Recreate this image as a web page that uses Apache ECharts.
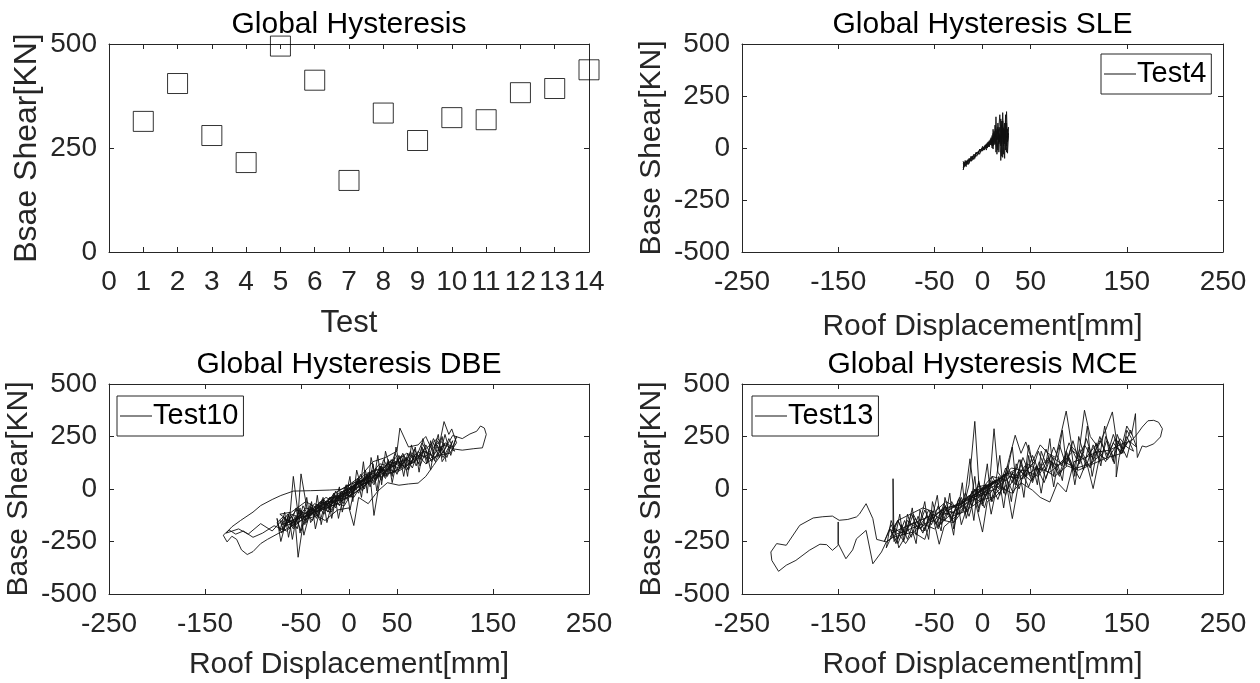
<!DOCTYPE html>
<html><head><meta charset="utf-8">
<script src="https://cdn.jsdelivr.net/npm/echarts@6/dist/echarts.min.js"></script>
<style>html,body{margin:0;padding:0;background:#fff}#c{width:1260px;height:683px}</style>
</head><body><div id="c"></div>
<script>
// ---------- data ----------
const testNumbers = [1,2,3,4,5,6,7,8,9,10,11,12,13,14];
const peakShear = [314,405,280,215,495,413,172,334,268,323,318,383,393,438];
const dispTicks = [-250,-150,-50,0,50,150,250];
const titles = ['Global Hysteresis','Global Hysteresis SLE','Global Hysteresis DBE','Global Hysteresis MCE'];
const legendNames = ['Test4','Test10','Test13'];

// Test4 (SLE): [roof displacement mm, base shear kN]
const test4 = [[-20,-95],[-19,-70],[-17,-90],[-16,-65],[-14,-75],[-13,-50],[-11,-62],[-10,-38],[-8,-50],[-7,-28],[-5,-35],[-4,-15],[-2,-22],[0,0],[1,-10],[3,15],[4,0],[6,28],[7,5],[9,45],[10,10],[11,70],[12,15],[13,110],[14,20],[15,60],[16,-10],[17,90],[18,30],[19,140],[20,20],[21,80],[22,-30],[23,120],[24,40],[25,175],[26,30],[27,100],[26,60],
[25,-20],[24,80],[22,40],[21,130],[20,-40],[19,60],[17,20],[16,100],[14,-20],[13,60],[11,10],[10,40],[8,15],[7,35],[5,0],[4,20],[2,-10],[1,5],[-1,-15],[-3,-5],[-4,-30],[-6,-20],[-8,-45],[-9,-30],[-11,-55],[-12,-40],[-14,-70],[-15,-55],[-17,-80],[-18,-60],[-20,-105],[-19,-80],[-20,-65],
[-18,-85],[-16,-60],[-15,-80],[-13,-55],[-12,-65],[-10,-42],[-9,-55],[-7,-30],[-6,-40],[-4,-20],[-3,-30],[-1,-5],[0,-15],[2,10],[3,-2],[5,25],[6,5],[8,40],[9,20],[10,60],[11,-5],[12,80],[13,30],[14,150],[15,40],[16,120],[17,-20],[18,70],[19,10],[20,110],[21,-45],[22,95],[23,20],[24,160],[24,-10],[25,120],[26,-25],[27,60],[26,90],
[25,10],[24,130],[23,-50],[22,60],[21,170],[20,40],[19,-60],[18,100],[16,30],[15,-30],[14,70],[12,40],[11,90],[10,0],[9,50],[7,10],[6,30],[4,-10],[3,15],[1,-8],[0,8],[-2,-20],[-3,-8],[-5,-32],[-7,-22],[-8,-40],[-10,-55],[-11,-40],[-13,-62],[-14,-50],[-16,-78],[-17,-62],[-19,-90],[-20,-75],
[-18,-70],[-15,-62],[-12,-52],[-9,-35],[-6,-25],[-3,-12],[0,-2],[3,8],[6,20],[9,30],[12,50],[14,90],[16,40],[18,160],[19,50],[20,130],[22,10],[23,90],[25,50],[27,70],[26,30],[25,100],[23,60],[21,100],[19,40],[17,60],[15,80],[13,20],[11,50],[9,15],[7,25],[5,10],[3,0],[0,-10]];

// Test10 (DBE)
const test10 = [[0,0],[5,15],[-4,-20],[10,35],[2,-5],[15,45],[-8,-30],[-15,-50],[-5,-10],[12,30],[20,60],[8,10],[-10,-40],[-22,-70],[-12,-25],[6,20],[25,75],[30,60],[18,30],[0,-15],
[-20,-45],[-35,-100],[-28,-60],[-42,-115],[-30,-80],[-15,-60],[-5,-20],[10,25],[22,80],[35,100],[28,60],[42,130],[50,120],[38,85],[25,40],[12,20],[-2,-30],[-18,-70],[-30,-95],[-45,-130],[-38,-90],[-55,-150],[-48,-110],[-62,-170],[-50,-135],[-35,-120],[-20,-40],[-5,-45],[8,30],[20,55],[32,120],[45,105],[55,160],[48,120],[60,140],[52,95],[40,70],[30,80],[15,10],[0,-35],
[-15,-80],[-30,-60],[-42,-140],[-50,72],[-53,-120],[-58,60],[-62,-150],[-70,-195],[-66,-140],[-72,-120],[-60,-110],[-45,-60],[-30,-100],[-15,-20],[0,20],[12,60],[25,130],[38,150],[50,180],[53,290],[62,200],[72,210],[80,250],[86,190],[95,230],[99,321],[104,260],[107,286],[112,220],[105,170],[92,160],[80,120],[70,170],[60,90],[48,150],[35,60],[20,70],[5,-40],[-8,-20],[-20,-110],[-35,-80],[-48,-170],[-53,-325],[-56,-160],[-65,-200],[-78,-175],[-90,-210],[-100,-230],[-110,-200],[-118,-215],[-125,-195],[-131,-220],[-127,-252],[-122,-225],[-117,-240],[-112,-290],[-106,-312],[-100,-298],[-92,-260],[-85,-240],[-75,-215],[-65,-190],[-50,-150],[-35,-130],[-20,-60],[-5,-80],[8,20],[22,60],[26,-126],[32,40],[40,100],[50,135],[60,170],[70,150],[82,200],[92,240],[100,210],[110,190],[118,185],[130,192],[139,196],[143,260],[141,290],[137,300],[133,275],[126,262],[118,240],[108,255],[100,190],[88,112],[80,60],[72,28],[62,24],[52,18],[40,30],[30,-10],[20,-70],[10,-40],[5,-174],[0,-90],[-12,-100],[-25,-150],[-40,-110],[-55,-170],[-68,-140],[-80,-200],[-92,-165],[-105,-215],[-115,-190],[-128,-210],[-122,-180],[-113,-150],[-100,-110],[-92,-79],[-80,-50],[-71,-31],[-58,-10],[-40,-8],[-20,-5],[-8,-2],[5,30],[18,45],[30,70],[45,140],[55,110],[68,130],[78,180],[90,150],[100,210],[95,200],[85,145],[75,160],[62,115],[50,80],
[38,95],[25,55],[12,15],[-2,-30],[-18,-50],[-32,-110],[-45,-90],[-58,-160],[-68,-180],[-60,-120],[-48,-140],[-36,-70],[-22,-95],[-10,-25],[4,10],[16,70],[28,50],[40,120],[52,100],[63,160],[70,130],[58,110],[45,75],[32,95],[20,30],[6,-20],[-8,-55],[-25,-60],[-40,-125],[-55,-100],[-65,-165],[-52,-130],[-38,-95],[-24,-40],[-12,-70],
[-70,-170],[-64,-120],[-58,-180],[-52,-100],[-46,-150],[-40,-70],[-34,-120],[-28,-50],[-22,-90],[-16,-20],[-10,-60],[-4,10],[2,-30],[8,40],[14,10],[20,80],[26,30],[32,110],[38,60],[44,140],[50,90],[56,170],[62,120],[68,190],[74,140],[80,210],[86,160],[92,230],[98,170],[104,240],[110,180],
[104,200],[98,150],[92,210],[86,130],[80,180],[74,110],[68,160],[62,90],[56,140],[50,70],[44,120],[38,50],[32,90],[26,20],[20,60],[14,-10],[8,30],[2,-40],[-4,-5],[-10,-80],[-16,-30],[-22,-110],[-28,-60],[-34,-140],[-40,-85],[-46,-170],[-52,-110],[-58,-190],[-64,-140],[-70,-210],[-75,-160],
[-68,-130],[-62,-190],[-56,-130],[-50,-200],[-44,-120],[-38,-150],[-32,-80],[-26,-120],[-20,-40],[-14,-90],[-8,-10],[-2,-50],[4,30],[10,-20],[16,60],[22,10],[28,100],[34,40],[40,130],[46,80],[52,160],[58,100],[64,180],[70,110],[76,200],[82,130],[88,220],[94,150],[100,260],[106,160],[112,250],[108,200],
[100,220],[94,180],[88,240],[82,170],[76,220],[70,150],[64,130],[58,150],[52,110],[46,130],[40,60],[34,110],[28,40],[22,80],[16,0],[10,50],[4,-20],[-2,20],[-8,-60],[-14,-10],[-20,-100],[-26,-50],[-32,-130],[-38,-90],[-44,-160],[-50,-100],[-56,-170],[-62,-110],[-68,-200],[-72,-150],
[-66,-170],[-60,-130],[-54,-190],[-48,-80],[-42,-130],[-36,-100],[-30,-150],[-24,-60],[-18,-110],[-12,-30],[-6,-70],[0,20],[6,-10],[12,70],[18,20],[24,90],[30,50],[36,140],[42,90],[48,170],[54,110],[60,150],[66,100],[72,180],[78,150],[84,170],[90,130],[96,200],[102,150],[108,230],
[101,160],[97,130],[93,260],[89,200],[85,90],[81,170],[77,240],[73,120],[69,150],[65,210],[61,60],[57,160],[53,100],[49,200],[45,60],[42,110],[38,180],[34,20],[30,160],[27,70],[23,150],[19,-20],[15,130],[12,20],[8,90],[4,-60],[1,60],[-3,-30],[-7,-110],[-10,10],[-14,-50],[-18,-140],[-21,-60],[-25,-80],[-29,-170],[-33,-30],[-36,-130],[-40,-160],[-44,-40],[-47,-120],[-51,-210],[-55,-90],[-59,-140],[-63,-230],[-67,-110],[-72,-200],
[-75,-140],[-71,-250],[-67,-180],[-63,-120],[-59,-240],[-55,-140],[-51,-90],[-47,-220],[-43,-150],[-39,-60],[-35,-190],[-31,-110],[-27,-40],[-23,-160],[-19,-90],[-15,-20],[-11,-140],[-7,-60],[-3,20],[1,-100],[5,-10],[9,50],[13,-40],[17,90],[21,20],[25,120],[29,-10],[33,110],[37,60],[41,140],[45,30],[49,120],[53,150],[57,60],[61,170],[65,120],[69,200],[73,80],[77,190],[81,120],[85,230],[89,140],[93,180],[97,250],[101,130]];

// Test13 (MCE)
const test13 = [[0,0],[8,20],[-6,-15],[15,45],[-12,-40],[22,60],[5,10],[-20,-60],[-8,-10],[12,30],[28,85],[18,30],[-5,-30],[-25,-75],[-35,-100],[-18,-45],[0,-10],[20,55],[35,95],[25,40],[10,60],[-10,-50],[-30,-110],[-45,-125],[-38,-80],[-52,-140],[-40,-90],[-22,-75],[-5,10],[15,30],[30,100],[45,85],[55,135],[40,60],[25,75],[8,-20],
[-10,-40],[-15,-60],[-28,-100],[-40,-150],[-52,-120],[-62,-200],[-72,-160],[-85,-210],[-93,-180],[-93,49],[-92,-250],[-86,-221],[-80,-260],[-72,-205],[-60,-240],[-52,-125],[-45,-263],[-40,-180],[-30,-140],[-20,-90],[-14,20],[-8,322],[-4,40],[0,-60],[5,-20],[8,60],[12,287],[16,80],[22,40],[28,150],[34,256],[40,170],[45,224],[52,130],[60,210],[68,170],[76,150],[87,371],[93,200],[100,165],[106,375],[112,250],[120,200],[128,280],[135,367],[139,240],[139,160],[139,57],[142,150],[150,300],[155,260],[159,359],[160,210],[161,150],[166,205],[170,200],[178,215],[185,248],[187,287],[183,318],[178,327],[172,325],[166,295],[161,263],[155,230],[145,215],[132,185],[118,175],[105,145],[95,130],[87,-14],[78,30],[70,-62],[60,-40],[52,-6],[40,30],[30,-20],[20,10],[10,-40],[0,-50],[-10,-80],[-20,-110],[-32,-130],[-42,-110],[-50,-150],[-60,-165],[-70,-180],[-80,-200],[-90,-215],[-100,-252],[-110,-240],
[-114,-141],[-121,-70],[-128,-120],[-131,-133],[-140,-145],[-149,-149],[-156,-129],[-166,-132],[-176,-138],[-190,-173],[-204,-268],[-214,-260],[-220,-300],[-219,-340],[-212,-392],[-204,-363],[-194,-340],[-180,-292],[-169,-263],[-162,-265],[-156,-292],[-150,-268],[-150,-157],[-150,-260],[-142,-332],[-135,-290],[-131,-237],[-121,-197],[-114,-356],[-105,-300],[-100,-252],[-93,-230],[-86,-221],[-72,-205],[-60,-170],[-50,-190],[-40,-150],[-30,-160],[-20,-100],[-13,144],[-8,-50],[0,-205],[5,-60],[15,-30],[25,20],[31,-141],[38,40],[48,80],[58,60],[68,140],[78,110],[88,160],[101,49],[108,130],[115,2],[122,160],[130,140],[138,200],[145,180],[150,220],[145,170],[130,150],[115,120],[100,90],[88,110],[75,60],[62,100],[50,40],[38,90],[25,-10],[12,40],[0,-30],[-12,-60],[-25,-120],[-38,-100],[-48,-160],[-58,-130],[-68,-190],[-78,-150],[-88,-260],[-95,-200],[-88,-150],[-75,-120],[-62,-90],[-50,-110],[-38,-60],[-26,-90],[-14,-30],[-2,-60],[10,20],[22,70],[34,50],[46,120],[58,90],[70,160],[82,120],[94,180],[106,140],[118,210],[125,170],[112,120],[98,100],[84,130],[70,80],[56,100],[42,50],[28,60],[14,0],[0,-20],
[-95,-210],[-88,-150],[-81,-220],[-74,-120],[-67,-190],[-60,-100],[-53,-170],[-46,-80],[-39,-150],[-32,-60],[-25,-120],[-18,-20],[-11,-80],[-4,30],[3,-40],[10,60],[17,0],[24,100],[31,30],[38,140],[45,60],[52,160],[59,80],[66,190],[73,100],[80,210],[87,110],[94,230],[101,120],[108,240],[115,140],[122,250],[129,150],[136,260],[143,170],[150,250],[157,180],
[150,200],[143,240],[136,150],[129,230],[122,130],[115,210],[108,110],[101,190],[94,90],[87,170],[80,70],[73,150],[66,50],[59,130],[52,30],[45,110],[38,0],[31,80],[24,-30],[17,50],[10,-60],[3,20],[-4,-90],[-11,-10],[-18,-120],[-25,-50],[-32,-150],[-39,-80],[-46,-180],[-53,-100],[-60,-200],[-67,-130],[-74,-230],[-81,-150],[-88,-240],[-95,-170],[-102,-250],
[-96,-190],[-90,-260],[-84,-170],[-78,-240],[-70,-140],[-62,-210],[-54,-110],[-46,-190],[-38,-90],[-30,-160],[-22,-40],[-14,-130],[-6,0],[2,-90],[10,40],[18,-30],[26,110],[34,20],[42,150],[50,60],[58,180],[66,90],[74,200],[82,110],[90,220],[98,140],[106,210],[114,150],[122,230],[130,160],[138,240],[146,190],[154,280],[160,200],
[152,230],[144,170],[136,220],[128,130],[120,190],[112,100],[104,170],[96,80],[88,150],[80,60],[72,130],[64,30],[56,110],[48,10],[40,90],[32,-20],[24,60],[16,-50],[8,30],[0,-80],[-8,0],[-16,-110],[-24,-40],[-32,-140],[-40,-70],[-48,-170],[-56,-100],[-64,-190],[-72,-120],[-80,-220],[-88,-150],[-96,-240],
[-100,-280],[-95,-150],[-90,-210],[-86,-120],[-82,-250],[-77,-170],[-73,-90],[-69,-220],[-64,-140],[-60,-60],[-56,-190],[-51,-110],[-47,-30],[-43,-170],[-38,-120],[-34,-20],[-30,-190],[-25,-90],[-21,30],[-17,-140],[-12,-60],[-8,60],[-4,-110],[1,0],[5,120],[9,-60],[14,40],[18,160],[22,-20],[27,110],[31,200],[35,20],[40,140],[44,60],[48,210],[53,100],[57,20],[61,180],[66,120],[70,240],[74,60],[79,160],[83,280],[87,120],[92,200],[96,60],[100,250],[105,170],[109,300],[113,120],[118,220],[122,160],[127,300],[131,190],[136,130],[140,260],[145,200],[150,150],[155,240],
[150,280],[146,170],[141,230],[137,120],[132,210],[128,250],[123,110],[119,180],[114,60],[110,200],[105,90],[101,160],[96,20],[92,130],[87,180],[83,40],[78,120],[74,10],[69,150],[65,90],[61,-20],[56,110],[52,40],[48,160],[43,-40],[39,70],[35,120],[30,-60],[26,40],[22,-90],[17,60],[13,-30],[9,-120],[4,20],[0,-70],[-4,40],[-9,-150],[-13,-30],[-17,-100],[-22,-170],[-26,-60],[-30,-220],[-35,-110],[-39,-40],[-43,-200],[-48,-130],[-52,-60],[-56,-240],[-61,-150],[-65,-100],[-69,-260],[-74,-180],[-78,-120],[-82,-240],[-87,-280],[-91,-190],[-96,-230]];

// ---------- chart ----------
const AX = '#262626';
const F = "'Liberation Sans', Arial, Helvetica, sans-serif";
const grids = [
  {left:109, top:44, width:480, height:208},
  {left:742, top:44, width:481, height:208},
  {left:109, top:384, width:480, height:210},
  {left:742, top:384, width:481, height:210}
];
const tickStyle = {inside:true, length:5, lineStyle:{color:AX, width:1}};
const lineStyle = {show:true, onZero:false, lineStyle:{color:AX, width:1}};

const xAxes = [], yAxes = [];
grids.forEach((g, i) => {
  const isTL = i === 0;
  const xMin = isTL ? 0 : -250, xMax = isTL ? 14 : 250;
  const yMin = isTL ? 0 : -500, yMax = 500;
  const xTickCfg = isTL ? {interval:1} : {};
  const xCustom = isTL ? {} : {customValues: dispTicks};
  xAxes.push(Object.assign({
    gridIndex:i, type:'value', position:'bottom', min:xMin, max:xMax,
    axisLine: lineStyle,
    axisTick: Object.assign({}, tickStyle, xCustom),
    axisLabel: Object.assign({color:AX, fontSize:28, fontFamily:F, margin:16}, xCustom),
    splitLine:{show:false},
    name: isTL ? 'Test' : 'Roof Displacement[mm]',
    nameLocation:'middle', nameGap: isTL ? 56 : (i === 1 ? 60 : 56),
    nameTextStyle:{color:AX, fontSize: isTL ? 31 : 30, fontFamily:F}
  }, xTickCfg));
  xAxes.push(Object.assign({
    gridIndex:i, type:'value', position:'top', min:xMin, max:xMax,
    axisLine: lineStyle,
    axisTick: Object.assign({}, tickStyle, xCustom),
    axisLabel:{show:false},
    splitLine:{show:false},
    name: titles[i], nameLocation:'middle', nameGap:4,
    nameTextStyle:{color:'#000', fontSize:30, fontFamily:F}
  }, xTickCfg));
  yAxes.push({
    gridIndex:i, type:'value', position:'left', min:yMin, max:yMax, interval:250,
    axisLine: lineStyle, axisTick: tickStyle,
    axisLabel:{color:AX, fontSize:28, fontFamily:F, margin:12},
    splitLine:{show:false},
    name: isTL ? 'Bsae Shear[KN]' : 'Base Shear[KN]',
    nameLocation:'middle', nameRotate:90, nameGap: isTL ? 66 : 75,
    nameTextStyle:{color:AX, fontSize: isTL ? 32 : 30, fontFamily:F}
  });
  yAxes.push({
    gridIndex:i, type:'value', position:'right', min:yMin, max:yMax, interval:250,
    axisLine: lineStyle, axisTick: tickStyle,
    axisLabel:{show:false}, splitLine:{show:false}
  });
});

const legendBase = {
  orient:'horizontal', icon:'rect', itemWidth:32, itemHeight:1, itemGap:0,
  padding:[4,5,4,3], borderColor:AX, borderWidth:1, backgroundColor:'#fff',
  selectedMode:false,
  textStyle:{color:'#000', fontSize:29, fontFamily:F, lineHeight:32, padding:[0,0,0,-4]}
};
const legends = [
  Object.assign({}, legendBase, {data:[legendNames[0]], left:1101, top:54}),
  Object.assign({}, legendBase, {data:[legendNames[1]], left:117, top:396}),
  Object.assign({}, legendBase, {data:[legendNames[2]], left:752, top:396})
];

const hystLine = (name, data, gi) => ({
  name, type:'line', data, xAxisIndex: gi*2, yAxisIndex: gi*2,
  showSymbol:false, symbol:'none', smooth:false,
  lineStyle:{color:'#111', width:0.9}, itemStyle:{color:'#111'},
  emphasis:{disabled:true}, silent:true
});

const option = {
  animation:false,
  backgroundColor:'#fff',
  grid: grids,
  xAxis: xAxes,
  yAxis: yAxes,
  legend: legends,
  series: [
    {
      type:'scatter', xAxisIndex:0, yAxisIndex:0,
      data: testNumbers.map((t, k) => [t, peakShear[k]]),
      symbol:'rect', symbolSize:20,
      itemStyle:{color:'rgba(0,0,0,0)', borderColor:'#000', borderWidth:1},
      emphasis:{disabled:true}, silent:true
    },
    hystLine(legendNames[0], test4, 1),
    hystLine(legendNames[1], test10, 2),
    hystLine(legendNames[2], test13, 3)
  ]
};
const chart = echarts.init(document.getElementById('c'), null, {renderer:'canvas'});
chart.setOption(option);
</script>
</body></html>
